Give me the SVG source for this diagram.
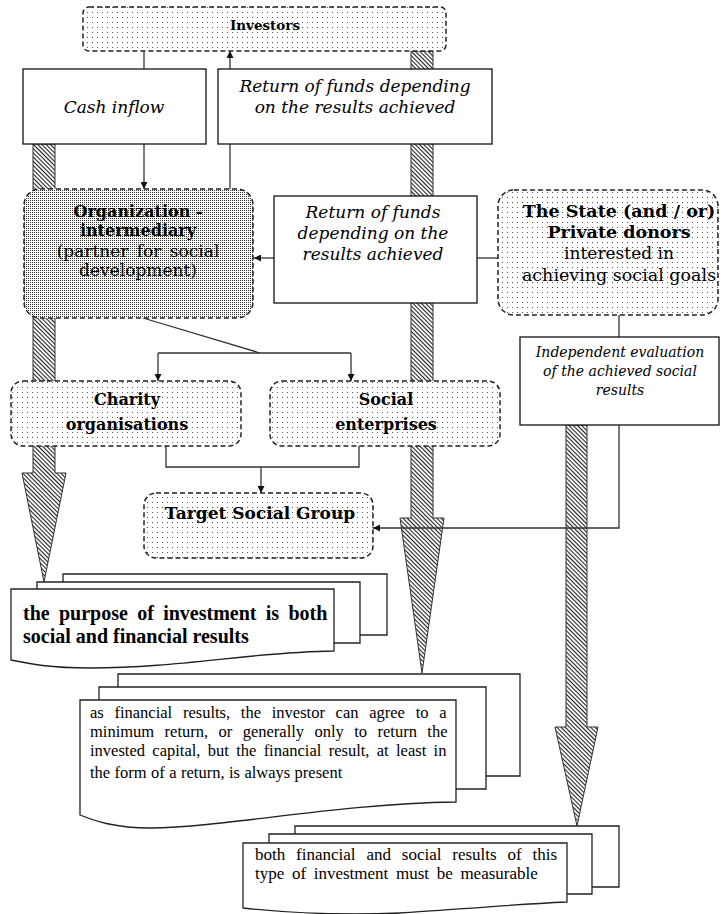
<svg xmlns="http://www.w3.org/2000/svg" width="721" height="914" viewBox="0 0 721 914">
<defs>
  <pattern id="hatch" width="3" height="3" patternUnits="userSpaceOnUse" patternTransform="rotate(45)">
    <rect width="3" height="3" fill="#fff"/>
    <rect width="3" height="1.1" fill="#222"/>
  </pattern>
  <pattern id="dots" width="5" height="5" patternUnits="userSpaceOnUse">
    <rect width="5" height="5" fill="#fff"/>
    <rect x="2" y="2" width="1" height="1" fill="#555"/>
  </pattern>
  <pattern id="dense" width="2" height="2" patternUnits="userSpaceOnUse">
    <rect width="2" height="2" fill="#fff"/>
    <rect x="0" y="0" width="1" height="1" fill="#333"/>
  </pattern>
  <marker id="ah" viewBox="0 0 10 10" refX="10" refY="5" markerWidth="8" markerHeight="7" markerUnits="userSpaceOnUse" orient="auto">
    <path d="M0,0 L10,5 L0,10 Z" fill="#111"/>
  </marker>
</defs>
<style>
  .box { fill: #fff; stroke: #111; stroke-width: 1.3; }
  .dsh { stroke: #222; stroke-width: 1.5; stroke-dasharray: 5 3; }
  .sp { fill: url(#dots); }
  .dn { fill: url(#dense); }
  .conn { stroke: #333; stroke-width: 1.3; fill: none; }
  .arr { marker-end: url(#ah); }
  .hatch { fill: url(#hatch); stroke: #333; stroke-width: 1; }
  .doc { fill: #fff; stroke: #222; stroke-width: 1.3; }
  text { fill: #000; }
  .b { font-family: "DejaVu Serif", serif; font-weight: bold; font-size: 16px; text-anchor: middle; }
  .r { font-family: "DejaVu Serif", serif; font-size: 17px; text-anchor: middle; }
  .it { font-family: "DejaVu Serif", serif; font-style: italic; font-size: 17px; text-anchor: middle; }
  .its { font-family: "DejaVu Serif", serif; font-style: italic; font-size: 14px; text-anchor: middle; }
  .tb { font-family: "Liberation Serif", "Times New Roman", serif; font-weight: bold; font-size: 20px; }
  .tr { font-family: "Liberation Serif", "Times New Roman", serif; font-size: 16.5px; }
</style>

<g id="flows">
  <polygon class="hatch" points="33,144 55,144 55,473 66,473 44,582 22,473 33,473"/>
  <polygon class="hatch" points="411,51 433,51 433,518 444,518 422,673 400,518 411,518"/>
  <polygon class="hatch" points="566,425 587,425 587,727 598,727 577,826 555,727 566,727"/>
</g>

<g id="connectors">
  <path class="conn" d="M144,51 V69"/>
  <path class="conn arr" d="M144,144 V189"/>
  <path class="conn arr" d="M230,189 V51"/>
  <path class="conn arr" d="M274,258 H254"/>
  <path class="conn" d="M477,258 H498"/>
  <path class="conn" d="M143,318 L260,353"/>
  <path class="conn" d="M158,353 H351"/>
  <path class="conn arr" d="M158,353 V381"/>
  <path class="conn arr" d="M351,353 V381"/>
  <path class="conn" d="M166,446 V467 H359 V446"/>
  <path class="conn arr" d="M261,467 V493"/>
  <path class="conn" d="M619,315 V337"/>
  <path class="conn arr" d="M619,425 V528 H373"/>
</g>

<g id="investors">
  <rect class="sp dsh" x="83" y="7" width="363" height="44" rx="6"/>
  <text class="b" x="265" y="30" style="font-size:13.5px">Investors</text>
</g>
<g id="cash-inflow">
  <rect class="box" x="23" y="69" width="183" height="75"/>
  <text class="it" x="114" y="113">Cash inflow</text>
</g>
<g id="return-top">
  <rect class="box" x="218" y="69" width="274" height="75"/>
  <text class="it" x="355" y="92">Return of funds depending</text>
  <text class="it" x="355" y="113">on the results achieved</text>
</g>
<g id="organization">
  <rect class="dn dsh" x="24" y="189" width="229" height="129" rx="16"/>
  <text class="b" x="138" y="217">Organization -</text>
  <text class="b" x="138" y="236">intermediary</text>
  <text class="r" x="138" y="257" word-spacing="3">(partner for social</text>
  <text class="r" x="138" y="276">development)</text>
</g>
<g id="return-middle">
  <rect class="box" x="274" y="196" width="203" height="107"/>
  <text class="it" x="373" y="218">Return of funds</text>
  <text class="it" x="373" y="239">depending on the</text>
  <text class="it" x="373" y="260">results achieved</text>
</g>
<g id="state">
  <rect class="sp dsh" x="498" y="190" width="220" height="125" rx="16"/>
  <text class="b" x="619" y="217" style="font-size:17.5px">The State (and / or)</text>
  <text class="b" x="619" y="238" style="font-size:17.5px">Private donors</text>
  <text class="r" x="619" y="259">interested in</text>
  <text class="r" x="619" y="281" style="font-size:17.5px">achieving  social goals</text>
</g>
<g id="independent">
  <rect class="box" x="520" y="337" width="199" height="88"/>
  <text class="its" x="620" y="357">Independent evaluation</text>
  <text class="its" x="620" y="376">of the achieved social</text>
  <text class="its" x="620" y="395">results</text>
</g>
<g id="charity">
  <rect class="sp dsh" x="11" y="381" width="230" height="65" rx="12"/>
  <text class="b" x="127" y="405">Charity</text>
  <text class="b" x="127" y="430">organisations</text>
</g>
<g id="social">
  <rect class="sp dsh" x="270" y="381" width="230" height="65" rx="12"/>
  <text class="b" x="386" y="405">Social</text>
  <text class="b" x="386" y="430">enterprises</text>
</g>
<g id="target">
  <rect class="sp dsh" x="144" y="493" width="229" height="65" rx="12"/>
  <text class="b" x="260" y="519" style="font-size:17px">Target Social Group</text>
</g>

<g id="doc-purpose">
  <path class="doc" d="M63,574 H387 V635 H63 Z"/>
  <path class="doc" d="M37,582 H360 V643 H37 Z"/>
  <path class="doc" d="M11,589 H334 V651 C250,652 180,668 90,668 C50,668 30,664 11,660 Z"/>
  <text class="tb" x="23" y="620" word-spacing="4.3">the purpose of investment is both</text>
  <text class="tb" x="23" y="643">social and financial results</text>
</g>
<g id="doc-financial">
  <path class="doc" d="M118,674 H520 V776 H118 Z"/>
  <path class="doc" d="M99,687 H486 V789 H99 Z"/>
  <path class="doc" d="M80,700 H456 V802 C330,804 230,827 150,828 C115,828 95,821 80,815 Z"/>
  <text class="tr" x="90" y="718" word-spacing="6.6">as financial results, the investor can agree to a</text>
  <text class="tr" x="90" y="737" word-spacing="6.3">minimum return, or generally only to return the</text>
  <text class="tr" x="90" y="756" word-spacing="3.2">invested capital, but the financial result, at least in</text>
  <text class="tr" x="90" y="778" word-spacing="0.3">the form of a return, is always present</text>
</g>
<g id="doc-measurable">
  <path class="doc" d="M295,826 H619 V887 H295 Z"/>
  <path class="doc" d="M269,834 H592 V894 H269 Z"/>
  <path class="doc" d="M243,843 H567 V902 C500,905 440,911 400,913 C330,916 280,912 243,908 Z"/>
  <text class="tr" x="255" y="860" word-spacing="6.6" style="font-size:17px">both financial and social results of this</text>
  <text class="tr" x="255" y="879" word-spacing="3.4" style="font-size:17px">type of investment must be measurable</text>
</g>
</svg>
